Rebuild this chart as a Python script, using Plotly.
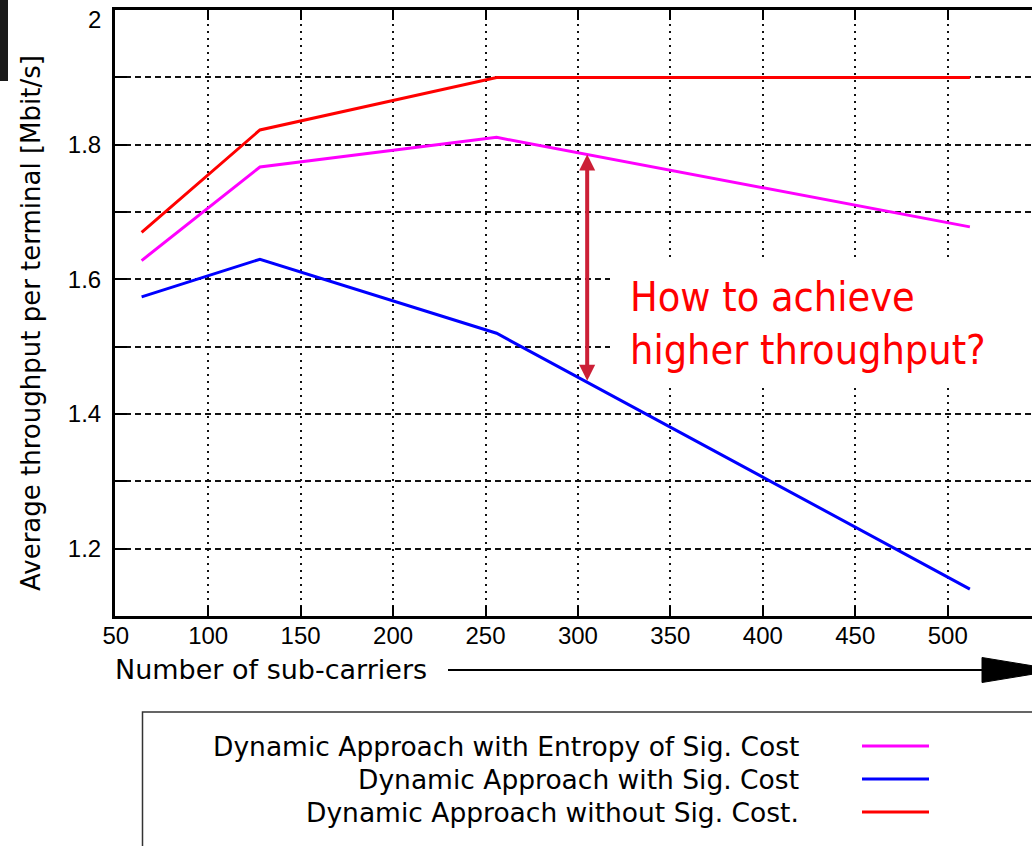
import plotly.graph_objects as go

# ---------------- data ----------------
subcarriers = [64, 128, 256, 512]
entropy_sig_cost = [1.628, 1.767, 1.811, 1.678]
with_sig_cost = [1.574, 1.630, 1.520, 1.140]
without_sig_cost = [1.670, 1.822, 1.900, 1.900]

series_names = [
    "Dynamic Approach with Entropy of Sig. Cost",
    "Dynamic Approach with Sig. Cost",
    "Dynamic Approach without Sig. Cost.",
]
series_values = [entropy_sig_cost, with_sig_cost, without_sig_cost]
series_colors = ["#ff00ff", "#0000ff", "#ff0000"]

x_tick_vals = [50, 100, 150, 200, 250, 300, 350, 400, 450, 500]
y_tick_vals = [1.2, 1.3, 1.4, 1.5, 1.6, 1.7, 1.8, 1.9, 2.0]
y_tick_text = ["1.2", "", "1.4", "", "1.6", "", "1.8", "", "2"]

x_title = "Number of sub-carriers"
y_title = "Average throughput per terminal [Mbit/s]"
note_text = "How to achieve<br>higher throughput?"
gap_x = 305  # where the double arrow is drawn

# ---------------- layout geometry ----------------
W, H = 1032, 846
L, R, T, B = 115, 1032, 10, 616
PW, PH = R - L, B - T


def px(x):
    return (x - L) / PW


def py(y):
    return (B - y) / PH


FONT = "Liberation Sans, Arial, Helvetica, sans-serif"
WIDE = "DejaVu Sans, Liberation Sans, sans-serif"

fig = go.Figure()
for name, vals, col in zip(series_names, series_values, series_colors):
    fig.add_trace(go.Scatter(x=subcarriers, y=vals, mode="lines", name=name,
                             line=dict(color=col, width=3), showlegend=False))

fig.update_layout(
    width=W, height=H,
    margin=dict(l=L, r=W - R, t=T, b=H - B, pad=0),
    paper_bgcolor="white", plot_bgcolor="white",
    font=dict(family=FONT, size=24, color="black"),
    showlegend=False,
)
fig.update_xaxes(
    range=[49.6, 545.6], tickvals=x_tick_vals, ticks="inside", ticklen=10,
    tickwidth=2, tickcolor="black", showline=True, linewidth=3, linecolor="black",
    mirror="ticks", showgrid=True, gridcolor="#111111", gridwidth=2, griddash="2px,5px",
    tickfont=dict(size=24), zeroline=False, ticklabelstandoff=-4,
)
# top label is drawn separately (the plot top sits at the page edge)
y_axis_text = y_tick_text[:-1] + [""]
fig.update_yaxes(
    range=[1.1, 2.0002], tickvals=y_tick_vals, ticktext=y_axis_text, ticks="inside",
    ticklen=12, tickwidth=2, tickcolor="black", showline=True, linewidth=3,
    linecolor="black", mirror=False, showgrid=True, gridcolor="#111111", gridwidth=1.5,
    griddash="6px,4px", tickfont=dict(size=24), zeroline=False, ticklabelstandoff=6,
)

shapes = []
# white box behind the note (hides grid)
shapes.append(dict(type="rect", xref="paper", yref="paper", x0=px(610), x1=px(1040),
                   y0=py(384), y1=py(258), fillcolor="white", line=dict(width=0),
                   layer="above"))
# top-left dark bar
shapes.append(dict(type="rect", xref="paper", yref="paper", x0=px(0), x1=px(8),
                   y0=py(81), y1=py(-2), fillcolor="#1a1a1a", line=dict(width=0)))
# x-axis direction arrow
shapes.append(dict(type="line", xref="paper", yref="paper", x0=px(448), x1=px(990),
                   y0=py(670), y1=py(670), line=dict(color="black", width=2)))
shapes.append(dict(type="path", xref="paper", yref="paper",
                   path="M {} {} L {} {} L {} {} Z".format(px(982), py(657.5), px(1058), py(670), px(982), py(682.5)),
                   fillcolor="black", line=dict(color="black", width=1)))
# legend box
shapes.append(dict(type="rect", xref="paper", yref="paper", x0=px(142.5), x1=px(1045),
                   y0=py(860), y1=py(712), fillcolor="rgba(0,0,0,0)",
                   line=dict(color="#333333", width=1.5)))

annotations = []
# top y tick label
annotations.append(dict(xref="paper", yref="paper", x=px(103), y=py(20), text=y_tick_text[-1],
                        showarrow=False, xanchor="right", yanchor="middle",
                        font=dict(family=FONT, size=24, color="black")))
legend_rows = [746, 779, 812]
for name, col, yy in zip(series_names, series_colors, legend_rows):
    annotations.append(dict(xref="paper", yref="paper", x=px(801), y=py(yy), text=name,
                            showarrow=False, xanchor="right", yanchor="middle",
                            font=dict(family=WIDE, size=26.5, color="black")))
    shapes.append(dict(type="line", xref="paper", yref="paper", x0=px(862), x1=px(929),
                       y0=py(yy), y1=py(yy), line=dict(color=col, width=3)))

# axis titles
annotations.append(dict(xref="paper", yref="paper", x=px(113), y=py(669), text=x_title,
                        showarrow=False, xanchor="left", yanchor="middle",
                        font=dict(family=WIDE, size=27, color="black")))
annotations.append(dict(xref="paper", yref="paper", x=px(31), y=py(323), text=y_title,
                        showarrow=False, xanchor="center", yanchor="middle", textangle=-90,
                        font=dict(family=WIDE, size=26, color="black")))
# note text
annotations.append(dict(xref="paper", yref="paper", x=px(628), y=py(323), text=note_text,
                        showarrow=False, xanchor="left", yanchor="middle", align="left",
                        font=dict(family="DejaVu Sans Condensed, Noto Sans, DejaVu Sans, sans-serif",
                                  size=41, color="#ff0000")))
# double-headed arrow between curves
top_y = entropy_sig_cost[2] + (entropy_sig_cost[3] - entropy_sig_cost[2]) * (gap_x - subcarriers[2]) / (subcarriers[3] - subcarriers[2])
bot_y = with_sig_cost[2] + (with_sig_cost[3] - with_sig_cost[2]) * (gap_x - subcarriers[2]) / (subcarriers[3] - subcarriers[2])
annotations.append(dict(x=gap_x, y=top_y, ax=gap_x, ay=bot_y, xref="x", yref="y",
                        axref="x", ayref="y", text="", showarrow=True, arrowhead=2,
                        startarrowhead=2, arrowside="end+start", arrowsize=0.8,
                        startarrowsize=0.8, arrowwidth=4, arrowcolor="#cc1f36",
                        standoff=0, startstandoff=0))

fig.update_layout(shapes=shapes, annotations=annotations)
fig.write_html("out.html")
